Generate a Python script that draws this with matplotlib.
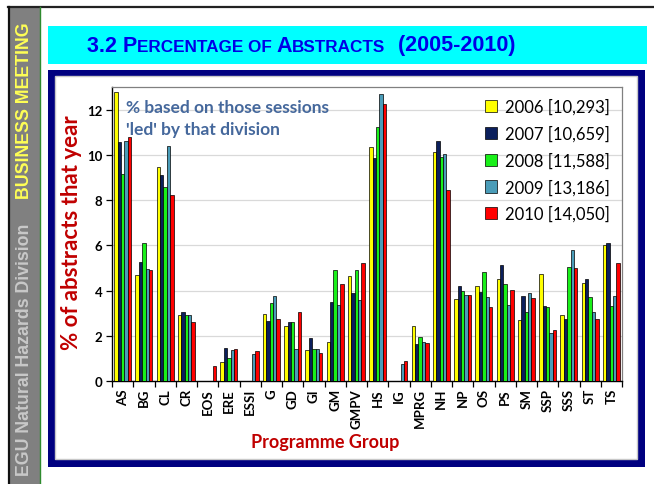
import matplotlib
matplotlib.use("Agg")
import matplotlib.pyplot as plt
import numpy as np
from matplotlib.patches import Rectangle
from matplotlib.lines import Line2D
from matplotlib.offsetbox import TextArea, HPacker, AnchoredOffsetbox

categories = ["AS", "BG", "CL", "CR", "EOS", "ERE", "ESSI", "G", "GD", "GI", "GM", "GMPV",
              "HS", "IG", "MPRG", "NH", "NP", "OS", "PS", "SM", "SSP", "SSS", "ST", "TS"]
y2006 = [12.8, 4.7, 9.45, 2.9, 0, 0.85, 0, 2.97, 2.44, 1.37, 1.74, 4.66,
         10.35, 0, 2.41, 10.12, 3.62, 4.19, 4.49, 2.68, 4.75, 2.91, 4.35, 6.0]
y2007 = [10.55, 5.25, 9.1, 3.06, 0, 1.44, 0, 2.65, 2.62, 1.9, 3.51, 3.88,
         9.85, 0, 1.65, 10.63, 4.21, 3.93, 5.12, 3.75, 3.32, 2.76, 4.49, 6.09]
y2008 = [9.15, 6.12, 8.6, 2.91, 0, 1.03, 0, 3.47, 2.6, 1.41, 4.9, 4.9,
         11.24, 0, 1.93, 9.9, 3.97, 4.84, 4.29, 3.07, 3.26, 5.03, 3.71, 3.32]
y2009 = [10.62, 4.97, 10.41, 2.91, 0, 1.37, 1.19, 3.74, 1.43, 1.41, 3.37, 3.57,
         12.71, 0.76, 1.74, 10.03, 3.79, 3.72, 3.37, 3.88, 2.13, 5.79, 3.07, 3.74]
y2010 = [10.8, 4.93, 8.21, 2.62, 0.65, 1.41, 1.34, 2.74, 3.04, 1.26, 4.31, 5.21,
         12.25, 0.9, 1.68, 8.44, 3.82, 3.29, 4.01, 3.65, 2.25, 4.99, 2.76, 5.21]
series_labels = ["2006 [10,293]", "2007 [10,659]", "2008 [11,588]", "2009 [13,186]", "2010 [14,050]"]
series_colors = ["#FFFF00", "#0B1F5C", "#19F019", "#4A9CB8", "#FF0000"]
yticks = [0, 2, 4, 6, 8, 10, 12]

W, H = 654, 485
fig = plt.figure(figsize=(W / 100, H / 100), dpi=100)
fig.patch.set_facecolor("white")


def rect(x0, y0, x1, y1, **kw):
    # pixel coords (top-left origin) -> figure fraction
    r = Rectangle((x0 / W, 1 - y1 / H), (x1 - x0) / W, (y1 - y0) / H,
                  transform=fig.transFigure, **kw)
    fig.patches.append(r)
    return r


def line(xs, ys, **kw):
    l = Line2D([x / W for x in xs], [1 - y / H for y in ys], transform=fig.transFigure, **kw)
    fig.lines.append(l)
    return l


# slide frame
rect(9, 8, 40, 485, facecolor="#808080", edgecolor="none", zorder=-5)
line([8, 654], [8, 8], color="#222222", lw=1.6, zorder=-4)
line([8.5, 8.5], [8, 485], color="#111111", lw=1.6, zorder=-4)
line([40, 40], [8, 485], color="#2E8B2E", lw=1.0, zorder=-4)

fig.text(25 / W, 1 - 111 / H, "BUSINESS MEETING", rotation=90, ha="center", va="center",
         fontsize=12.8, fontweight="bold", color="#FFFF55", family="Liberation Sans")
fig.text(25 / W, 1 - 350 / H, "EGU Natural Hazards Division", rotation=90, ha="center", va="center",
         fontsize=12.8, fontweight="bold", color="#C8C8C8", family="Liberation Sans")

# title box
rect(48, 27, 647, 65, facecolor="#00FFFF", edgecolor="none", zorder=-5)
big, small = 15.5, 12.3
tc = "#0000E6"
parts = [("3.2 P", big), ("ERCENTAGE OF ", small), ("A", big), ("BSTRACTS", small), ("  (2005-2010)", big)]
areas = [TextArea(t, textprops=dict(fontsize=s, fontweight="bold", color=tc, family="Liberation Sans"))
         for t, s in parts]
pack = HPacker(children=areas, align="baseline", pad=0, sep=0)
ab = AnchoredOffsetbox(loc="center", child=pack, frameon=False,
                       bbox_to_anchor=(301 / W, 1 - 46 / H), bbox_transform=fig.transFigure,
                       borderpad=0, pad=0)
fig.artists.append(ab)
ab.set_figure(fig)

# navy frame with white panel
rect(48, 71, 645, 468, facecolor="#000080", edgecolor="none", zorder=-5)
rect(55, 77, 637, 460, facecolor="white", edgecolor="#C8C8C8", lw=1.0, zorder=-4)

# chart axes
ax = fig.add_axes([112 / W, 1 - 382 / H, (622 - 112) / W, (382 - 88) / H])
ax.set_facecolor("white")
x = np.arange(len(categories))
data = [y2006, y2007, y2008, y2009, y2010]
bw = 0.16
handles = []
for i, (vals, lab, col) in enumerate(zip(data, series_labels, series_colors)):
    b = ax.bar(x + (i - 2) * bw, vals, width=bw, color=col, edgecolor="black", linewidth=0.5,
               label=lab, zorder=3)
    handles.append(b)

ax.set_xlim(-0.5, len(categories) - 0.5)
ax.set_ylim(0, 13)
ax.set_yticks(yticks)
ax.set_yticklabels([str(v) for v in yticks], fontsize=9.5, fontweight="bold", family="Lato")
ax.yaxis.grid(True, color="#D9D9D9", lw=0.9, zorder=0)
ax.set_axisbelow(True)

ax.set_xticks(np.arange(len(categories) + 1) - 0.5)
ax.set_xticklabels([])
ax.set_xticks(x, minor=True)
ax.set_xticklabels(categories, minor=True, rotation=90, fontsize=9.5, fontweight="bold",
                   family="Lato", va="top")
ax.tick_params(axis="x", which="major", direction="out", length=4, width=0.9)
ax.tick_params(axis="x", which="minor", length=0, pad=5)
ax.tick_params(axis="y", direction="out", length=4, width=0.9, pad=3)

for s in ["top", "right"]:
    ax.spines[s].set_color("#808080")
    ax.spines[s].set_linewidth(0.9)
for s in ["left", "bottom"]:
    ax.spines[s].set_color("black")
    ax.spines[s].set_linewidth(1.0)

fig.text(72 / W, 1 - 233 / H, "% of abstracts that year", rotation=90, ha="center", va="center",
         fontsize=16, fontweight="bold", color="#C00000", family="Lato")
fig.text(325 / W, 1 - 443 / H, "Programme Group", ha="center", va="center", fontsize=13,
         fontweight="bold", color="#C00000", family="Lato")

ax.text(0.028, 0.958, "% based on those sessions\n'led' by that division", transform=ax.transAxes,
        ha="left", va="top", fontsize=12.5, fontweight="bold", color="#45689C", family="Lato",
        linespacing=1.45)

leg = ax.legend(handles=handles, loc="upper right", frameon=False,
                prop=dict(family="Lato", size=12), handlelength=0.75, handleheight=0.75,
                handletextpad=0.5, labelspacing=0.62, borderaxespad=0.3,
                bbox_to_anchor=(1.0, 1.0))

fig.savefig("out.png", dpi=100)
